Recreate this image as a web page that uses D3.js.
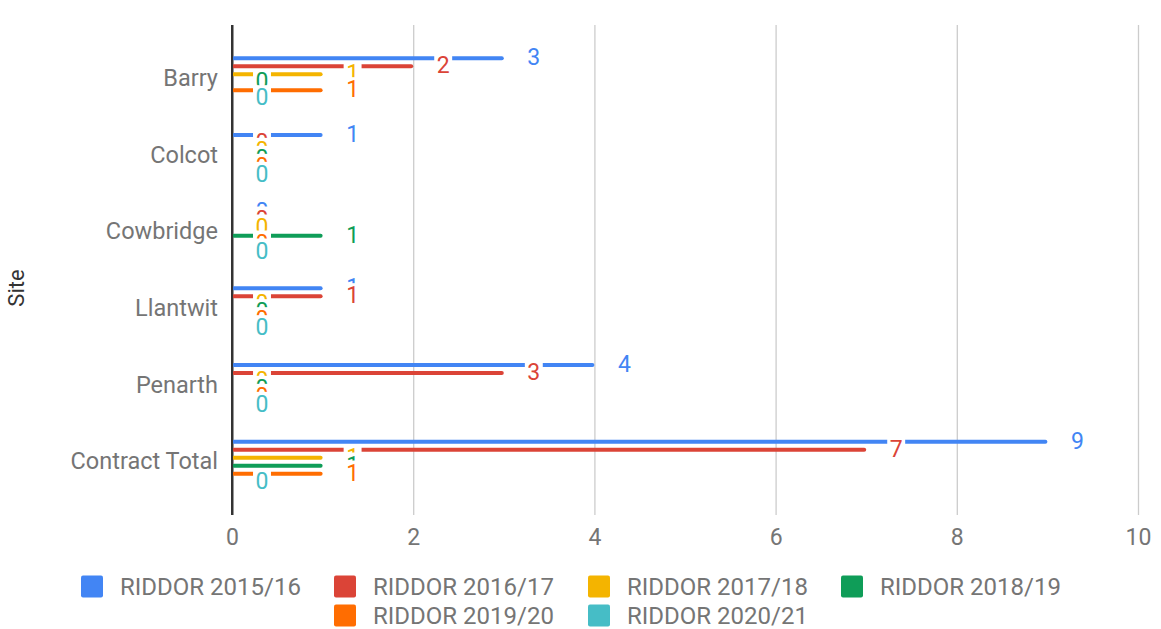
<!DOCTYPE html>
<html><head><meta charset="utf-8">
<script src="https://cdn.jsdelivr.net/npm/d3@7"></script>
<style>
html,body{margin:0;padding:0;background:#fff;}
text{font-family:Roboto, "Noto Sans", sans-serif;}
</style></head>
<body><svg id="chart" width="1161" height="629"></svg>
<script>
const categories = ["Barry","Colcot","Cowbridge","Llantwit","Penarth","Contract Total"];
const seriesNames = ["RIDDOR 2015/16","RIDDOR 2016/17","RIDDOR 2017/18","RIDDOR 2018/19","RIDDOR 2019/20","RIDDOR 2020/21"];
const riddor1516 = [3,1,0,1,4,9];
const riddor1617 = [2,0,0,1,3,7];
const riddor1718 = [1,0,0,0,0,1];
const riddor1819 = [0,0,1,0,0,1];
const riddor1920 = [1,0,0,0,0,1];
const riddor2021 = [0,0,0,0,0,0];
const xTicks = [0,2,4,6,8,10];
const colors = ["#4285F4","#DB4437","#F4B400","#0F9D58","#FF6D01","#46BDC6"];

const seriesValues = [riddor1516,riddor1617,riddor1718,riddor1819,riddor1920,riddor2021];
const svg = d3.select("#chart");
const plotTop = 25, plotBottom = 515, plotLeft = 232, plotRight = 1138;

const x = d3.scaleLinear().domain([0,10]).range([plotLeft, plotRight]);
const y = d3.scaleBand().domain(categories).range([40,500]);
const inner = d3.scaleBand().domain(seriesNames).range([-24,24]);
const barH = 4;

// gridlines + x axis
const xAxis = d3.axisBottom(x).tickValues(xTicks).tickSize(-(plotBottom-plotTop)).tickPadding(13.5).tickFormat(d3.format("d"));
const gx = svg.append("g").attr("transform",`translate(0,${plotBottom})`).call(xAxis);
gx.select(".domain").remove();
gx.selectAll(".tick line").attr("stroke","#cccccc").attr("stroke-width",1.3);
gx.selectAll(".tick text").attr("fill","#757575").style("font-size","23px").style("font-family","Roboto");
gx.selectAll(".tick").filter(d=>d===0).select("line").attr("stroke","#333333").attr("stroke-width",2);

// y axis labels
const yAxis = d3.axisLeft(y).tickSize(0).tickPadding(14);
const gy = svg.append("g").attr("transform",`translate(${plotLeft},0)`).call(yAxis);
gy.select(".domain").remove();
gy.selectAll(".tick text").attr("fill","#757575").attr("dy","0.32em").style("font-size","23.5px").style("font-family","Roboto");

// axis title
svg.append("text").attr("transform","translate(23.5,288) rotate(-90)").attr("text-anchor","middle")
  .attr("fill","#333").style("font-size","22px").text("Site");

// bars
const barsG = svg.append("g");
seriesNames.forEach((s,i)=>{
  barsG.selectAll(null).data(categories).enter().append("rect")
    .attr("x", x(0))
    .attr("y", (c)=> y(c)+y.bandwidth()/2+inner(s)+inner.bandwidth()/2-barH/2)
    .attr("width", (c,j)=> Math.max(0, x(seriesValues[i][j])-x(0)))
    .attr("height", barH)
    .attr("rx", 2)
    .attr("fill", colors[i]);
});

// zero line on top
svg.append("line").attr("x1",x(0)).attr("x2",x(0)).attr("y1",plotTop).attr("y2",plotBottom)
  .attr("stroke","#333").attr("stroke-width",2);

// value labels, drawn series after series with white backing
const labG = svg.append("g");
const fs = 23;
seriesNames.forEach((s,i)=>{
  categories.forEach((c,j)=>{
    const v = seriesValues[i][j];
    const cy = y(c)+y.bandwidth()/2+inner(s)+inner.bandwidth()/2 - 1;
    const tx = x(v)+30;
    const g = labG.append("g");
    const r = g.append("rect").attr("fill","#fff");
    const t = g.append("text").attr("x",tx).attr("y",cy+fs*0.355).attr("text-anchor","middle")
      .attr("fill",colors[i]).style("font-size",fs+"px").text(v);
    const w = t.node().getComputedTextLength();
    r.attr("x",tx-w/2-2.5).attr("y",cy-fs*0.355-4).attr("width",w+5).attr("height",fs*0.71+6);
  });
});

// legend
const legendCols = [81,334,588,841];
const legendPos = [[0,0],[1,0],[2,0],[3,0],[1,1],[2,1]];
const rowY = [586.5,615.5];
const lg = svg.append("g");
seriesNames.forEach((s,i)=>{
  const [cI,rI] = legendPos[i];
  const lx = legendCols[cI], ly = rowY[rI];
  lg.append("rect").attr("x",lx).attr("y",ly-11).attr("width",22).attr("height",22).attr("rx",2).attr("fill",colors[i]);
  lg.append("text").attr("x",lx+39).attr("y",ly+8.5).attr("fill","#757575").style("font-size","24px").text(s);
});
</script></body></html>
